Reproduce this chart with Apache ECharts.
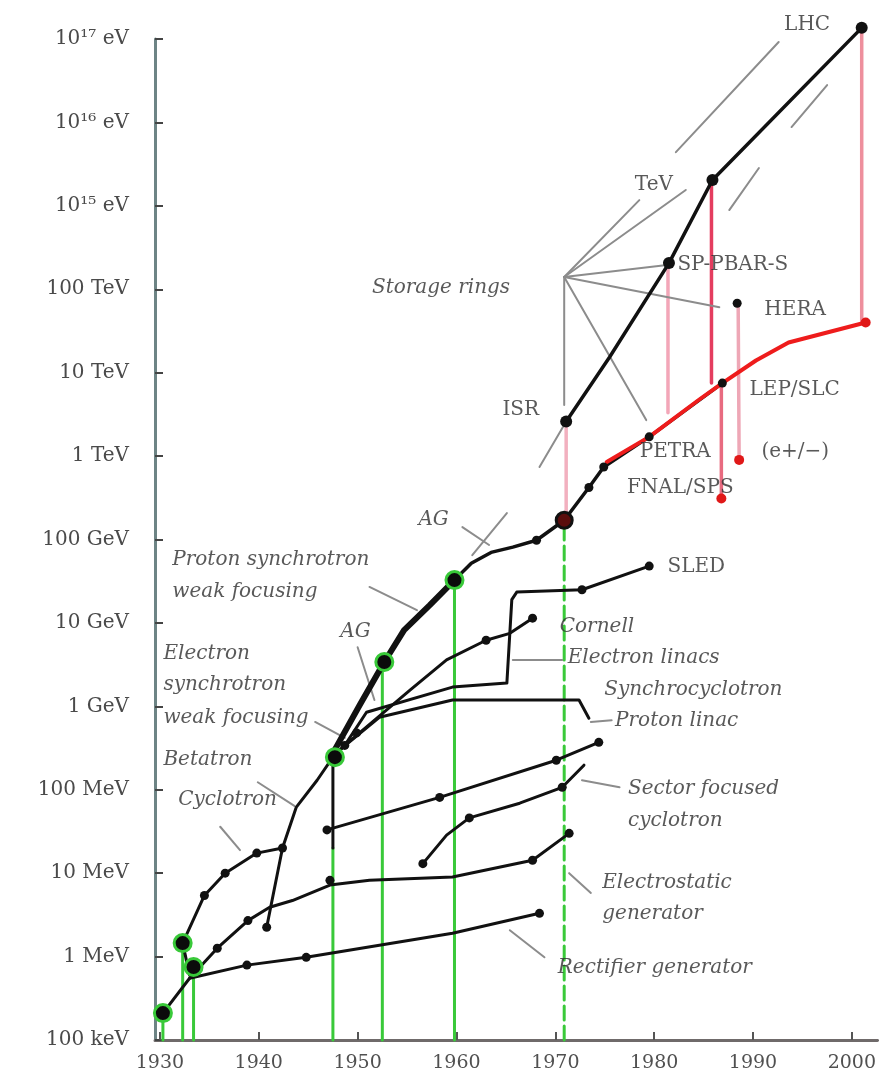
<!DOCTYPE html>
<html><head><meta charset="utf-8">
<script src="https://cdn.jsdelivr.net/npm/echarts@6/dist/echarts.min.js"></script>
<style>html,body{margin:0;padding:0;background:#fff}#c{width:879px;height:1079px}</style>
</head><body><div id="c"></div>
<script>
// ---------- axis ticks ----------
const yearTicks = [1930, 1940, 1950, 1960, 1970, 1980, 1990, 2000];
const energyTicks = [1e5, 1e6, 1e7, 1e8, 1e9, 1e10, 1e11, 1e12, 1e13, 1e14, 1e15, 1e16, 1e17];
const energyTickLabels = ['100 keV', '1 MeV', '10 MeV', '100 MeV', '1 GeV', '10 GeV', '100 GeV', '1 TeV', '10 TeV', '100 TeV', '10\u00b9\u2075 eV', '10\u00b9\u2076 eV', '10\u00b9\u2077 eV'];

// ---------- curves [year, energy in eV] ----------
const rectifierGenerator = [[1930.3,2.1e5],[1933.0,5.5e5],[1938.8,7.9e5],[1944.8,9.8e5],[1959.6,1.9e6],[1968.4,3.3e6]];
const electrostaticGenerator = [[1933.0,5.5e5],[1935.8,1.26e6],[1938.9,2.7e6],[1941.1,3.9e6],[1943.4,4.7e6],[1947.2,7.2e6],[1951.2,8.2e6],[1959.6,9.0e6],[1967.7,1.43e7],[1971.4,3.0e7]];
const cyclotron = [[1933.0,6.0e5],[1932.3,1.45e6],[1934.5,5.4e6],[1936.6,1.0e7],[1939.8,1.74e7],[1942.4,2.0e7]];
const betatron = [[1940.8,2.25e6],[1942.4,2.0e7],[1943.8,6.2e7],[1945.9,1.3e8],[1947.5,2.46e8]];
const synchrocyclotron = [[1948.2,3.0e8],[1952.2,7.4e8],[1959.6,1.19e9],[1972.4,1.19e9],[1973.4,7.2e8]];
const electronSynchrotron = [[1947.5,2.46e8],[1948.7,3.4e8],[1955.3,1.56e9],[1959.0,3.6e9],[1963.0,6.2e9],[1965.4,7.5e9],[1967.7,1.14e10]];
const electronLinacs = [[1948.7,3.4e8],[1950.9,8.5e8],[1959.6,1.7e9],[1965.1,1.9e9],[1965.6,1.9e10],[1966.1,2.34e10],[1972.7,2.5e10],[1979.5,4.8e10]];
const protonLinac = [[1946.9,3.3e7],[1958.3,8.1e7],[1970.1,2.26e8],[1974.4,3.7e8]];
const sectorFocusedCyclotron = [[1956.6,1.3e7],[1959.0,2.86e7],[1961.3,4.6e7],[1966.4,6.9e7],[1970.7,1.07e8],[1972.9,1.97e8]];
const protonSynchrotronWeak = [[1947.5,2.75e8],[1950.2,1.03e9],[1952.7,3.4e9],[1954.7,8.2e9],[1957.3,1.63e10],[1959.8,3.26e10]];
const protonSynchrotronAG = [[1959.8,3.26e10],[1961.5,5.2e10],[1963.5,7.0e10],[1965.7,8.1e10],[1968.1,9.8e10],[1970.9,1.7e11],[1973.4,4.2e11],[1974.9,7.4e11],[1979.5,1.7e12],[1986.9,7.5e12]];
const hadronColliders = [[1971.1,2.6e12],[1975.5,1.54e13],[1981.5,2.06e14],[1985.9,2.04e15],[2001.0,1.36e17]];
const leptonColliders = [[1975.2,8.5e11],[1979.5,1.7e12],[1984.5,4.7e12],[1986.9,7.5e12],[1990.3,1.4e13],[1993.6,2.3e13],[2001.4,4.0e13]];
const betatronJoin = [[1947.5,2.46e8],[1947.5,2.0e7]];

// ---------- drop lines ----------
const isrDrop = [[1971.1,2.6e12],[1971.1,1.86e11]];
const sppsDrop = [[1981.4,1.8e14],[1981.4,3.3e12]];
const tevatronDrop = [[1985.8,1.77e15],[1985.8,7.5e12]];
const fnalDrop = [[1986.8,7.5e12],[1986.8,3.1e11]];
const heraDrop = [[1988.5,6.8e13],[1988.6,9.0e11]];
const lhcDrop = [[2001.0,1.36e17],[2001.0,4.0e13]];
const greenYears = [[1930.3,2.1e5],[1932.3,1.45e6],[1933.4,7.5e5],[1947.5,2.0e7],[1952.5,3.4e9],[1959.8,3.26e10]];
const greenDashedYear = [[1970.9,1.7e11]];

// ---------- thin grey lines ----------
const storageRingHub = [1970.9,1.4e14];
const storageRingTargets = [[1978.5,1.17e15],[1983.2,1.55e15],[1981.3,1.95e14],[1986.6,6.1e13],[1979.2,2.7e12],[1970.9,4.1e12]];
const greyLines = [
  [[1982.2,4.4e15],[1992.6,9.2e16]],
  [[1993.9,8.8e15],[1997.5,2.8e16]],
  [[1987.6,8.9e14],[1990.6,2.84e15]],
  [[1968.4,7.4e11],[1971.1,2.6e12]],
  [[1951.2,2.7e10],[1956.0,1.42e10]],
  [[1950.0,5.1e9],[1951.7,1.19e9]],
  [[1960.6,1.41e11],[1963.3,8.6e10]],
  [[1961.6,6.5e10],[1965.1,2.07e11]],
  [[1945.7,6.5e8],[1948.7,4.2e8]],
  [[1939.9,1.23e8],[1943.6,6.4e7]],
  [[1936.1,3.6e7],[1938.1,1.89e7]],
  [[1965.7,3.6e9],[1970.7,3.6e9]],
  [[1973.6,6.5e8],[1975.7,6.8e8]],
  [[1972.7,1.3e8],[1976.5,1.07e8]],
  [[1971.4,1.0e7],[1973.6,5.8e6]],
  [[1965.4,2.07e6],[1968.9,9.8e5]]
];

// ---------- dots ----------
const blackDots = [[1938.8,7.9e5],[1944.8,9.8e5],[1968.4,3.3e6],[1935.8,1.26e6],[1938.9,2.7e6],[1947.2,8.2e6],[1967.7,1.43e7],[1971.4,3.0e7],
  [1934.5,5.4e6],[1936.6,1.0e7],[1939.8,1.74e7],[1942.4,2.0e7],[1940.8,2.25e6],[1946.9,3.3e7],[1958.3,8.1e7],[1970.1,2.26e8],[1974.4,3.7e8],
  [1956.6,1.3e7],[1961.3,4.6e7],[1970.7,1.07e8],[1963.0,6.2e9],[1967.7,1.14e10],[1972.7,2.5e10],[1979.5,4.8e10],[1949.9,4.8e8],[1948.7,3.4e8],
  [1968.1,9.8e10],[1973.4,4.2e11],[1974.9,7.4e11],[1979.5,1.7e12],[1986.9,7.5e12],[1988.4,6.8e13]];
const colliderDots = [[1971.1,2.6e12],[1981.5,2.06e14],[1985.9,2.04e15],[2001.0,1.36e17]];
const greenDots = [[1930.3,2.1e5],[1932.3,1.45e6],[1933.4,7.5e5],[1947.7,2.46e8],[1952.7,3.4e9],[1959.8,3.26e10]];
const redBlackDots = [[1970.9,1.7e11]];
const redDots = [[1986.8,3.1e11],[1988.6,9.0e11],[2001.4,4.0e13]];

// ---------- text labels [year, energy, text] ----------
const italicLabels = [
  [1931.2,5.7e10,'Proton synchrotron'],[1931.2,2.34e10,'weak focusing'],
  [1930.3,4.3e9,'Electron'],[1930.3,1.8e9,'synchrotron'],[1930.3,7.2e8,'weak focusing'],
  [1930.3,2.26e8,'Betatron'],[1931.8,7.5e7,'Cyclotron'],
  [1951.4,1.03e14,'Storage rings'],
  [1970.4,8.9e9,'Cornell'],[1971.2,3.8e9,'Electron linacs'],[1974.9,1.56e9,'Synchrocyclotron'],
  [1976.0,6.8e8,'Proton linac'],[1977.3,1.04e8,'Sector focused'],[1977.3,4.3e7,'cyclotron'],
  [1974.7,7.6e6,'Electrostatic'],[1974.7,3.3e6,'generator'],[1970.2,7.3e5,'Rectifier generator'],
  [1956.1,1.7e11,'AG'],[1948.2,7.8e9,'AG']
];
const uprightLabels = [
  [1993.1,1.47e17,'LHC'],[1978.0,1.77e15,'TeV'],[1982.3,1.95e14,'SP-PBAR-S'],[1991.1,5.6e13,'HERA'],
  [1989.6,6.2e12,'LEP/SLC'],[1964.6,3.6e12,'ISR'],[1978.5,1.12e12,'PETRA'],[1990.8,1.12e12,'(e+/\u2212)'],
  [1977.2,4.2e11,'FNAL/SPS'],[1981.3,4.67e10,'SLED']
];

// ---------- build ----------
function line(data, color, width, z, dash) {
  return { type: 'line', data: data, symbol: 'none', clip: false, silent: true, z: z,
    lineStyle: { color: color, width: width, type: dash || 'solid', cap: 'round', join: 'round' } };
}
function dots(data, size, color, border, bw, z) {
  return { type: 'scatter', data: data, symbol: 'circle', symbolSize: size, clip: false, silent: true, z: z,
    itemStyle: { color: color, borderColor: border, borderWidth: bw, opacity: 1 } };
}
function labels(data, italic, z) {
  return { type: 'scatter', symbolSize: 1, clip: false, silent: true, z: z,
    itemStyle: { color: 'rgba(0,0,0,0)' },
    data: data.map(d => ({ value: [d[0], d[1]], name: d[2] })),
    label: { show: true, position: 'right', distance: 0, formatter: '{b}',
      fontFamily: 'DejaVu Serif', fontStyle: italic ? 'italic' : 'normal', fontSize: 20,
      color: '#2f2f2f' } };
}

const series = [];
greenYears.forEach(p => series.push(line([[p[0], 1e5], p], '#39c939', 3, 1)));
greenDashedYear.forEach(p => series.push(line([[p[0], 1e5], p], '#39c939', 3, 1, [14, 6])));
series.push(line(isrDrop, '#f2b0bf', 3.5, 2));
series.push(line(sppsDrop, '#f3a6b8', 3.5, 2));
series.push(line(tevatronDrop, '#e43d5f', 3.5, 2));
series.push(line(fnalDrop, '#e86b80', 3.5, 2));
series.push(line(heraDrop, '#eea7b6', 3.5, 2));
series.push(line(lhcDrop, '#ee8f9d', 3.5, 2));
storageRingTargets.forEach(t => series.push(line([storageRingHub, t], '#8c8c8c', 2, 3)));
greyLines.forEach(g => series.push(line(g, '#8c8c8c', 2, 3)));
[rectifierGenerator, electrostaticGenerator, cyclotron, betatron, synchrocyclotron, electronSynchrotron,
 electronLinacs, protonLinac, sectorFocusedCyclotron, betatronJoin].forEach(c => series.push(line(c, '#111', 3, 5)));
series.push(line(protonSynchrotronWeak, '#111', 6, 5));
series.push(line(protonSynchrotronAG, '#111', 3.5, 5));
series.push(line(hadronColliders, '#111', 3.5, 5));
series.push(line(leptonColliders, '#ee1c1c', 4, 6));
series.push(dots(blackDots, 9, '#111', '#111', 0, 8));
series.push(dots(colliderDots, 12, '#111', '#111', 0, 8));
series.push(dots(greenDots, 17, '#0b0b0b', '#39c939', 3, 8));
series.push(dots(redBlackDots, 16, '#5a0d0d', '#111', 3, 8));
series.push(dots(redDots, 10, '#e01818', '#e01818', 0, 8));
series.push(labels(italicLabels, true, 10));
series.push(labels(uprightLabels, false, 10));

const chart = echarts.init(document.getElementById('c'), null, { renderer: 'canvas' });
chart.setOption({
  animation: false,
  backgroundColor: '#ffffff',
  grid: { left: 155, right: 0, top: 39, bottom: 39, containLabel: false },
  xAxis: {
    type: 'value', min: 1929.5, max: 2002.6,
    axisLine: { onZero: false, lineStyle: { color: '#6f6a6a', width: 3 } },
    axisTick: { inside: true, length: 8, customValues: yearTicks, lineStyle: { color: '#555', width: 2 } },
    axisLabel: { customValues: yearTicks, margin: 14, color: '#505050', fontFamily: 'DejaVu Serif', fontSize: 19,
      formatter: v => String(Math.round(v)) },
    splitLine: { show: false }
  },
  yAxis: {
    type: 'log', logBase: 10, min: 1e5, max: 1e17, interval: 1,
    axisLine: { onZero: false, lineStyle: { color: '#6d8485', width: 3 } },
    axisTick: { inside: true, length: 8, lineStyle: { color: '#444', width: 2 } },
    axisLabel: { margin: 26, color: '#4a4a4a', fontFamily: 'DejaVu Serif', fontSize: 20,
      formatter: v => { const i = Math.round(Math.log10(v)) - 5; return energyTickLabels[i] || ''; } },
    splitLine: { show: false }
  },
  series: series
});
</script></body></html>
